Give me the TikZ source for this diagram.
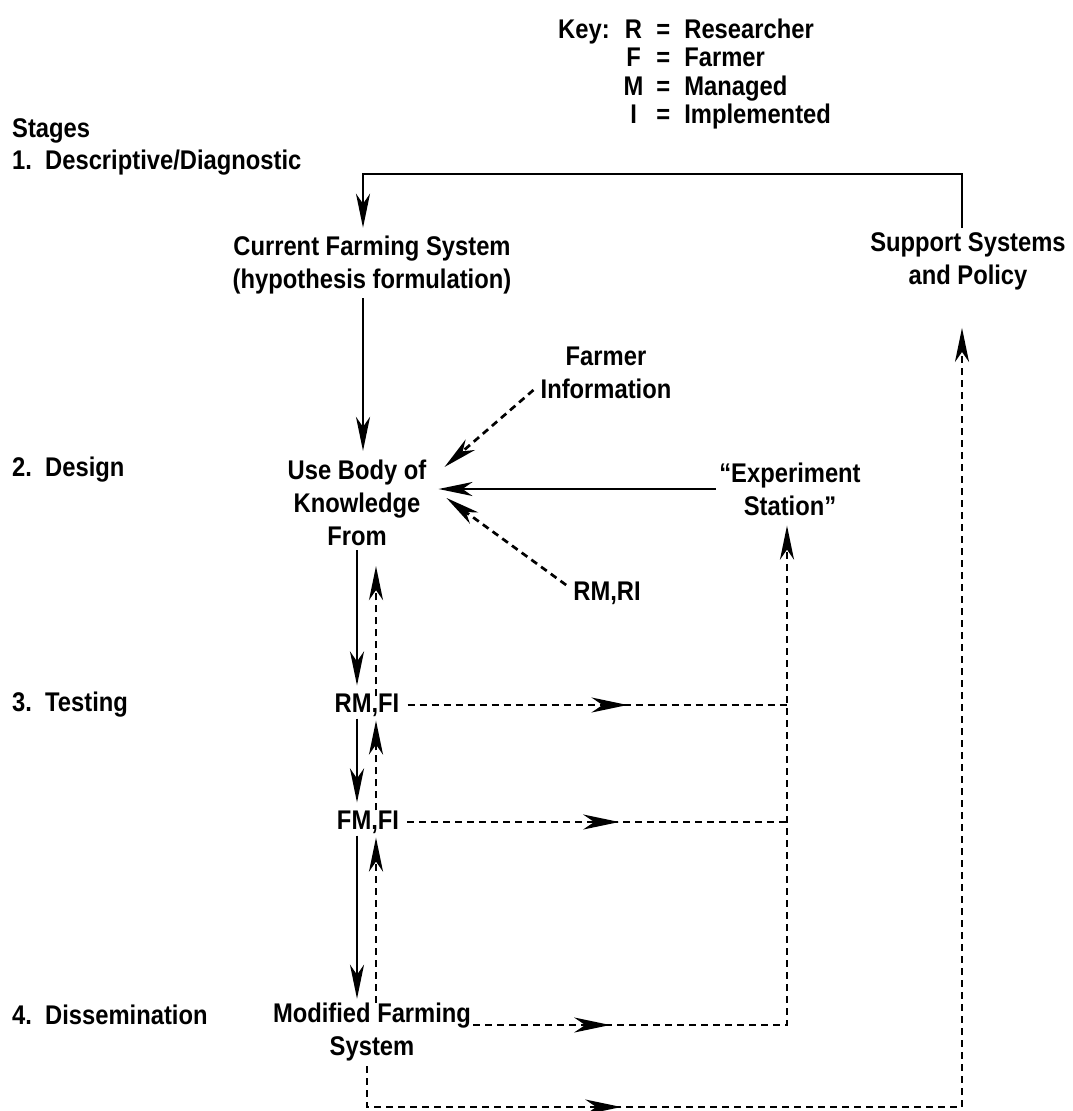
\documentclass[tikz,border=0pt]{standalone}
\usepackage{fontspec}
\newfontfamily\dfont{Liberation Sans Bold}[FakeStretch=0.88]
\usetikzlibrary{arrows.meta,decorations.markings,calc}
\tikzset{
  lbl/.style={inner sep=0pt, font=\dfont\fontsize{27}{33}\selectfont, align=center},
  stg/.style={inner sep=0pt, font=\dfont\fontsize{27}{33}\selectfont, anchor=west},
  sarr/.style={line width=2.7pt, -{Stealth[length=34pt,width=14pt,inset=10pt]}},
  dline/.style={line width=2.7pt, dash pattern=on 7pt off 5pt},
  darr/.style={dline, -{Stealth[length=34pt,width=14pt,inset=10pt]}},
  midarrow/.style={postaction={decorate}, decoration={markings,
      mark=at position #1 with {\arrow{Stealth[length=36pt,width=15pt,inset=11pt]}}}},
}
\begin{document}
\begin{tikzpicture}[x=1pt,y=-1pt]
\useasboundingbox (0,0) rectangle (1073,1111);
% key
\node[inner sep=0pt, anchor=north west, font=\dfont\fontsize{27}{28.5}\selectfont] (key) at (558,18)
  {\begin{tabular}{@{}l@{\hspace{14pt}}c@{\hspace{13pt}}c@{\hspace{14pt}}l@{}}
   Key: & R & = & Researcher\\
        & F & = & Farmer\\
        & M & = & Managed\\
        & I & = & Implemented
   \end{tabular}};
% stage labels
\node[stg] (stages) at (12,131) {Stages};
\node[stg] (st1) at (12,163) {1.\ \ Descriptive/Diagnostic};
\node[stg] (st2) at (12,470) {2.\ \ Design};
\node[stg] (st3) at (12,705) {3.\ \ Testing};
\node[stg] (st4) at (12,1015) {4.\ \ Dissemination};
% main nodes
\node[lbl] (cur) at (372,265) {Current Farming System\\(hypothesis formulation)};
\node[lbl] (sup) at (968,261) {Support Systems\\and Policy};
\node[lbl] (body) at (357,503) {Use Body of\\Knowledge\\From};
\node[lbl] (farm) at (606,373) {Farmer\\Information};
\node[lbl] (exp) at (790,489) {“Experiment\\Station”};
\node[lbl] (rmri) at (607,593) {RM,RI};
\node[lbl] (rmfi) at (367,705) {RM,FI};
\node[lbl] (fmfi) at (368,822) {FM,FI};
\node[lbl] (mod) at (372,1032) {Modified Farming\\System};
% guide coordinates
\coordinate (tl) at (363,174);
\coordinate (tr) at (962,174);
\coordinate (sx) at (357,0);
\coordinate (dx) at (376,0);
\coordinate (vx) at (787,0);
\coordinate (rx) at (962,0);
\coordinate (by) at (0,1107);
% connectors
\draw[sarr, shorten <=4pt, shorten >=8pt] (tr |- sup.north) -- (tr) -- (tl) -- (tl |- cur.north);
\draw[sarr, shorten <=4pt, shorten >=9pt] (tl |- cur.south) -- (tl |- body.north);
\draw[darr] ($(farm.west)+(-7,17)$) -- ($(body.east)+(18,-36)$);
\draw[sarr] ([xshift=-3pt]exp.west) -- ($(body.east)+(12,-14)$);
\draw[darr] ($(rmri.west)+(-7,-8)$) -- ($(body.east)+(20,-5)$);
\draw[sarr, shorten <=4pt, shorten >=8pt] (sx |- body.south) -- (sx |- rmfi.north);
\draw[darr, shorten <=-3pt, shorten >=20pt] (dx |- rmfi.north) -- (dx |- body.south);
\draw[sarr, shorten <=2pt, shorten >=8pt] (sx |- rmfi.south) -- (sx |- fmfi.north);
\draw[darr, shorten >=4pt] (dx |- fmfi.north) -- (dx |- rmfi.south);
\draw[sarr, shorten <=2pt, shorten >=4pt] (sx |- fmfi.south) -- (sx |- mod.north);
\draw[darr, shorten >=4pt] (dx |- mod.north) -- (dx |- fmfi.south);
\draw[dline, midarrow=220pt] ([xshift=8pt]rmfi.east) -- (vx |- rmfi.east);
\draw[dline, midarrow=212pt] ([xshift=8pt]fmfi.east) -- (vx |- fmfi.east);
\draw[darr, midarrow=137pt, shorten >=10pt] ($(mod.east)+(2,-7)$) -| (vx |- exp.south);
\draw[darr, midarrow=295pt, shorten >=38pt] ($(mod.south)+(-5,5)$) |- (rx |- by) -- (rx |- sup.south);
\end{tikzpicture}
\end{document}
